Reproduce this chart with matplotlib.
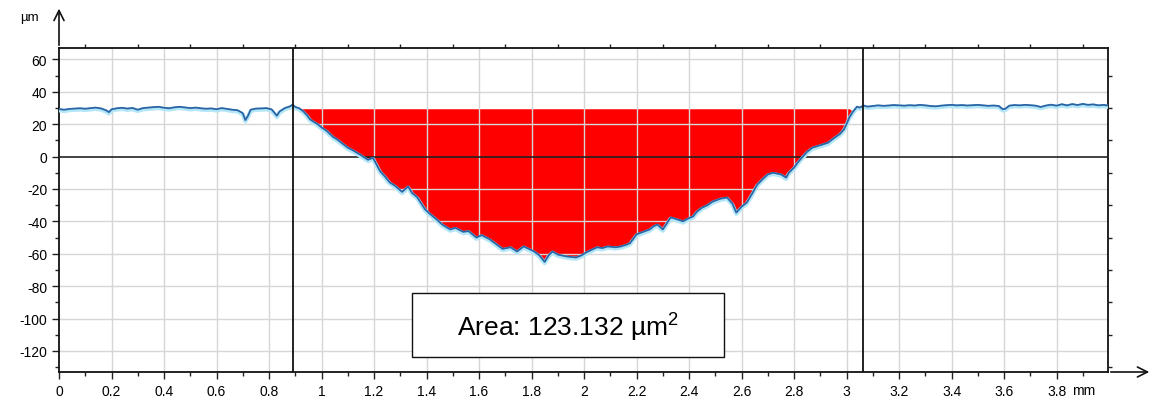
import numpy as np
import matplotlib.pyplot as plt
from matplotlib.patches import Rectangle

plt.rcParams['font.family'] = ['Liberation Sans', 'DejaVu Sans']
plt.rcParams['axes.unicode_minus'] = False

# profile position (mm) and height (µm)
pos_mm = [0.00, 0.02, 0.04, 0.06, 0.08, 0.10, 0.12, 0.14, 0.16, 0.18, 0.19, 0.20, 0.22, 0.24, 0.26, 0.28,
          0.30, 0.32, 0.34, 0.36, 0.38, 0.40, 0.42, 0.44, 0.46, 0.48, 0.50, 0.52, 0.54, 0.56, 0.58, 0.60,
          0.62, 0.64, 0.66, 0.68, 0.70, 0.71, 0.72, 0.73, 0.75, 0.77, 0.79, 0.81, 0.83, 0.84, 0.86, 0.88,
          0.89, 0.90, 0.915, 0.93, 0.945, 0.956, 0.97, 0.985, 1.00, 1.02, 1.045, 1.06, 1.08, 1.10, 1.12,
          1.147, 1.16, 1.177, 1.196, 1.21, 1.223, 1.24, 1.26, 1.28, 1.307, 1.33, 1.345, 1.364, 1.38, 1.394,
          1.41, 1.44, 1.46, 1.49, 1.51, 1.54, 1.56, 1.59, 1.61, 1.64, 1.665, 1.69, 1.72, 1.745, 1.77, 1.79,
          1.81, 1.83, 1.85, 1.865, 1.88, 1.90, 1.935, 1.97, 1.99, 2.01, 2.03, 2.05, 2.07, 2.09, 2.12, 2.14,
          2.16, 2.175, 2.20, 2.225, 2.25, 2.265, 2.28, 2.30, 2.33, 2.35, 2.377, 2.40, 2.415, 2.43, 2.45,
          2.47, 2.49, 2.52, 2.545, 2.565, 2.58, 2.60, 2.62, 2.64, 2.66, 2.68, 2.70, 2.72, 2.75, 2.77, 2.78,
          2.80, 2.815, 2.83, 2.85, 2.87, 2.90, 2.93, 2.945, 2.96, 2.975, 2.99, 3.00, 3.01, 3.025, 3.04,
          3.05, 3.065, 3.08, 3.10, 3.12, 3.14, 3.16, 3.18, 3.20, 3.22, 3.24, 3.26, 3.28, 3.30, 3.32, 3.34,
          3.36, 3.38, 3.40, 3.42, 3.44, 3.46, 3.48, 3.50, 3.52, 3.54, 3.56, 3.58, 3.595, 3.605, 3.62, 3.64,
          3.66, 3.68, 3.70, 3.72, 3.74, 3.76, 3.78, 3.80, 3.82, 3.84, 3.86, 3.88, 3.90, 3.92, 3.94, 3.96,
          3.98, 3.995]
height_um = [29.3, 28.9, 29.4, 29.6, 29.8, 29.5, 29.9, 30.2, 29.7, 28.5, 27.4, 29.1, 29.8, 30.1, 29.6, 30.0,
             28.9, 29.9, 30.2, 30.5, 30.7, 30.1, 29.8, 30.4, 30.7, 30.3, 29.9, 30.2, 29.8, 29.5, 29.7, 29.2,
             29.9, 29.4, 28.9, 28.6, 26.8, 22.5, 25.2, 28.9, 29.6, 29.7, 29.9, 29.1, 25.2, 27.8, 29.9, 31.0,
             32.0, 30.6, 29.8, 28.0, 25.5, 23.0, 21.5, 20.0, 18.0, 15.8, 12.0, 10.5, 8.0, 5.5, 3.8,
             1.2, -0.2, -2.0, -0.8, -5.0, -9.0, -12.0, -16.0, -18.0, -21.8, -18.5, -22.5, -25.0, -29.0, -32.5,
             -35.0, -39.0, -42.0, -45.0, -44.0, -46.5, -46.0, -50.0, -48.5, -51.0, -54.0, -57.0, -56.0, -58.6, -55.5, -57.0,
             -58.6, -61.0, -65.0, -61.0, -58.6, -60.5, -61.7, -62.3, -61.0, -59.0, -57.5, -56.0, -56.5, -55.5, -56.0, -55.5,
             -54.5, -53.5, -48.0, -46.5, -45.0, -43.0, -42.0, -45.0, -37.6, -38.5, -40.0, -38.0, -37.0, -34.0, -31.5,
             -30.0, -27.8, -26.0, -25.3, -29.0, -34.6, -31.0, -28.4, -23.0, -17.3, -14.0, -11.0, -10.0, -11.0, -13.0, -10.0,
             -6.8, -3.5, -0.6, 3.0, 5.5, 7.0, 8.6, 10.5, 12.3, 14.0, 16.7, 20.0, 24.0, 27.8, 30.8,
             30.2, 31.5, 30.8, 31.2, 31.6, 31.3, 31.5, 31.8, 31.6, 31.4, 31.7, 31.5, 31.9, 31.6, 31.2, 31.0,
             31.4, 31.7, 31.9, 31.6, 31.8, 31.5, 31.7, 31.9, 31.6, 31.3, 31.5, 31.2, 29.2, 29.5, 31.4, 31.8,
             31.6, 31.9, 31.7, 31.4, 30.6, 31.5, 32.0, 31.4, 32.3, 31.6, 32.4, 31.8, 32.5, 31.9, 32.2, 31.6,
             31.9, 31.5]

cursor_left = 0.891
cursor_right = 3.063
fill_level = 29.5
fill_start, fill_end = 0.93, 3.01

x = np.array(pos_mm)
y = np.array(height_um)

fig = plt.figure(figsize=(11.54, 4.10), dpi=100)
ax = fig.add_axes([59 / 1154, 1 - 373 / 410, 1049 / 1154, 324 / 410])
ax.set_xlim(0, 3.996)
ax.set_ylim(-133, 67)

# red area between the reference level and the profile
mask = (x >= fill_start) & (x <= fill_end)
ax.fill_between(x, y, fill_level, where=mask & (y <= fill_level), interpolate=True,
                color='#ff0000', lw=0, zorder=1)

# grid on top of the fill
for gx in np.arange(0.2, 3.9, 0.2):
    ax.axvline(gx, color='#d6d6d6', lw=1, zorder=2)
for gy in range(-120, 61, 20):
    if gy != 0:
        ax.axhline(gy, color='#d6d6d6', lw=1, zorder=2)
ax.axhline(0, color='#222222', lw=1.2, zorder=3)

# profile with light halo
ax.plot(x, y - 0.8, color='#b3e6f7', lw=3.0, zorder=4, solid_joinstyle='round')
ax.plot(x, y, color='#2a64a5', lw=1.3, zorder=5)

ax.axvline(cursor_left, color='#111111', lw=1.3, zorder=6)
ax.axvline(cursor_right, color='#111111', lw=1.3, zorder=6)

# ticks
ax.set_xticks(np.arange(0, 3.81, 0.2))
ax.set_xticklabels(['0'] + [f'{v:g}' for v in np.arange(0.2, 3.81, 0.2).round(1)])
ax.set_xticks(np.arange(0, 3.96, 0.1), minor=True)
ax.set_yticks(range(-120, 61, 20))
ax.set_yticks(range(-130, 66, 10), minor=True)
ax.tick_params(axis='both', which='major', length=5, width=1, labelsize=10, color='#222222')
ax.tick_params(axis='both', which='minor', length=3, width=1, color='#222222')
ax.tick_params(axis='x', which='both', top=True, direction='out')
ax.tick_params(axis='y', which='both', right=True, direction='out')
ax.tick_params(axis='x', which='major', top=False)
ax.tick_params(axis='y', which='major', right=False)
for s in ax.spines.values():
    s.set_linewidth(1.3)
    s.set_color('#111111')

ax.text(3.86, -0.035, 'mm', transform=ax.get_xaxis_transform(), ha='left', va='top',
        fontsize=10)
ax.text(-0.028, 1.096, 'µm', transform=ax.transAxes, ha='center', va='center', fontsize=9.5)

# axis arrows
ax.annotate('', xy=(0, 1.13), xytext=(0, 1.0), xycoords='axes fraction',
            arrowprops=dict(arrowstyle='->', lw=1.2, color='#111111', mutation_scale=18),
            annotation_clip=False)
ax.annotate('', xy=(1.042, 0), xytext=(1.0, 0), xycoords='axes fraction',
            arrowprops=dict(arrowstyle='->', lw=1.2, color='#111111', mutation_scale=18),
            annotation_clip=False)

# area box
ax.add_patch(Rectangle((1.345, -124), 1.188, 39.5, facecolor='white', edgecolor='#111111',
                       lw=1, zorder=8))
ax.text(1.939, -104.3, r'Area: 123.132 µm$^{\mathregular{2}}$', ha='center', va='center',
        fontsize=19, zorder=9)

fig.savefig('out.png', dpi=100)
